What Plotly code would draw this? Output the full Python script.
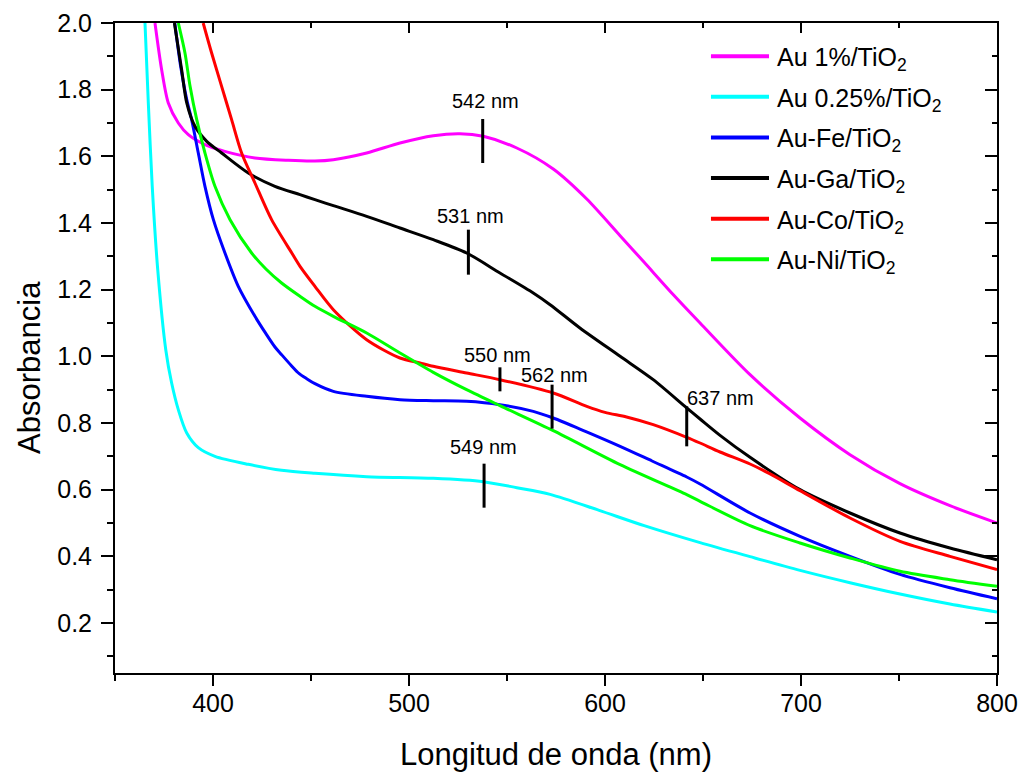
import plotly.graph_objects as go

# ---------------- data ----------------
series_names = ["Au 1%/TiO<sub>2</sub>", "Au 0.25%/TiO<sub>2</sub>", "Au-Fe/TiO<sub>2</sub>",
                "Au-Ga/TiO<sub>2</sub>", "Au-Co/TiO<sub>2</sub>", "Au-Ni/TiO<sub>2</sub>"]
series_colors = ["#FF00FF", "#00FFFF", "#0000FF", "#000000", "#FF0000", "#00FF00"]

au1_wl = [370.4, 373.8, 377.2, 382.3, 387.4, 395.9, 406.0, 421.4, 438.4, 452.0, 461.4, 478.4,
          495.4, 512.4, 526.0, 537.9, 555.0, 573.6, 590.7, 607.7, 620.0, 635.0, 648.5, 674.0,
          699.5, 725.0, 750.5, 776.0, 800.0]
au1_abs = [2.00, 1.86, 1.76, 1.70, 1.665, 1.635, 1.615, 1.595, 1.588, 1.586, 1.590, 1.61,
           1.64, 1.662, 1.668, 1.66, 1.625, 1.562, 1.472, 1.362, 1.282, 1.184, 1.100, 0.945,
           0.815, 0.705, 0.618, 0.552, 0.50]

au025_wl = [365.3, 367.0, 369.0, 371.8, 375.9, 378.9, 382.3, 386.6, 392.5, 401.0, 418.0, 435.0,
            452.0, 478.4, 512.4, 537.9, 555.0, 572.0, 597.0, 620.0, 648.5, 674.0, 699.5, 725.0,
            750.5, 776.0, 800.0]
au025_abs = [2.00, 1.76, 1.51, 1.26, 1.02, 0.92, 0.84, 0.77, 0.726, 0.70, 0.676, 0.658,
             0.649, 0.639, 0.634, 0.624, 0.606, 0.586, 0.538, 0.492, 0.441, 0.399, 0.358, 0.321,
             0.287, 0.257, 0.233]

fe_wl = [380.5, 383.5, 386.6, 389.1, 392.5, 395.9, 400.2, 406.1, 412.9, 421.4, 427.0, 431.6,
         435.0, 440.0, 444.0, 447.8, 452.0, 461.4, 478.4, 495.4, 512.4, 529.4, 546.4, 563.4,
         573.6, 590.0, 607.7, 624.0, 641.7, 648.5, 674.0, 699.5, 725.0, 750.5, 776.0, 800.0]
fe_abs = [2.00, 1.87, 1.77, 1.71, 1.61, 1.51, 1.41, 1.31, 1.21, 1.12, 1.068, 1.028,
          1.005, 0.972, 0.948, 0.933, 0.918, 0.895, 0.88, 0.87, 0.867, 0.865, 0.855, 0.835,
          0.815, 0.775, 0.73, 0.686, 0.638, 0.617, 0.53, 0.46, 0.40, 0.346, 0.306, 0.273]

ga_wl = [380.3, 384.0, 386.6, 390.8, 396.8, 404.4, 418.0, 431.6, 444.4, 452.0, 461.4, 478.4,
         495.4, 512.4, 529.4, 546.4, 563.4, 572.0, 587.2, 607.7, 624.6, 641.7, 648.5, 658.7,
         674.0, 699.5, 725.0, 750.5, 776.0, 800.0]
ga_abs = [2.00, 1.86, 1.76, 1.69, 1.645, 1.61, 1.55, 1.51, 1.485, 1.47, 1.452, 1.42,
          1.385, 1.35, 1.31, 1.25, 1.19, 1.155, 1.085, 1.00, 0.93, 0.845, 0.812, 0.763,
          0.697, 0.60, 0.53, 0.47, 0.425, 0.39]

co_wl = [395.0, 399.3, 404.4, 409.5, 414.6, 421.4, 429.9, 440.2, 444.4, 452.0, 461.4, 478.4,
         495.4, 505.6, 512.4, 529.4, 546.4, 573.6, 590.7, 600.0, 611.0, 624.6, 641.7, 648.5,
         658.7, 674.0, 684.0, 699.5, 725.0, 750.5, 776.0, 800.0]
co_abs = [2.00, 1.91, 1.81, 1.71, 1.61, 1.52, 1.41, 1.31, 1.27, 1.21, 1.14, 1.05,
          0.995, 0.98, 0.97, 0.95, 0.93, 0.89, 0.850, 0.832, 0.818, 0.795, 0.757, 0.740,
          0.713, 0.677, 0.648, 0.597, 0.515, 0.445, 0.40, 0.36]

ni_wl = [382.3, 385.7, 388.3, 391.7, 395.9, 401.0, 408.7, 419.7, 427.0, 435.0, 444.4, 452.0,
         461.4, 478.4, 495.4, 512.4, 529.4, 546.4, 573.6, 607.7, 641.7, 648.5, 674.0, 699.5,
         725.0, 750.5, 776.0, 800.0]
ni_abs = [2.00, 1.91, 1.81, 1.71, 1.61, 1.51, 1.41, 1.31, 1.262, 1.22, 1.18, 1.15,
          1.12, 1.07, 1.01, 0.952, 0.90, 0.852, 0.777, 0.675, 0.585, 0.565, 0.492, 0.44,
          0.395, 0.355, 0.33, 0.31]

series_wl = [au1_wl, au025_wl, fe_wl, ga_wl, co_wl, ni_wl]
series_abs = [au1_abs, au025_abs, fe_abs, ga_abs, co_abs, ni_abs]

# peak markers (vertical bars) and their labels
peak_labels = ["542 nm", "531 nm", "550 nm", "562 nm", "637 nm", "549 nm"]
peak_x = [537.6, 530.3, 546.4, 573.0, 641.7, 538.3]
peak_y_low = [1.580, 1.245, 0.895, 0.783, 0.730, 0.546]
peak_y_high = [1.712, 1.380, 0.967, 0.915, 0.850, 0.678]
label_x = [539.2, 531.5, 545.3, 574.1, 658.7, 537.9]
label_y = [1.765, 1.420, 1.005, 0.945, 0.876, 0.729]

x_range = [350, 800]
y_range = [0.05, 2.0]
x_title = "Longitud de onda (nm)"
y_title = "Absorbancia"

FONT = "Liberation Sans, Arial, sans-serif"

fig = go.Figure()
for name, color, wl, ab in zip(series_names, series_colors, series_wl, series_abs):
    fig.add_trace(go.Scatter(x=wl, y=ab, mode="lines", name=name,
                             line=dict(color=color, width=3, shape="spline", smoothing=0.8),
                             showlegend=False))

# helper trace so the mirrored (inside-tick) axes are drawn
fig.add_trace(go.Scatter(x=[None], y=[None], xaxis="x2", yaxis="y2",
                         showlegend=False, hoverinfo="skip"))

shapes = []
annotations = []
for lab, px, y0, y1, lx, ly in zip(peak_labels, peak_x, peak_y_low, peak_y_high, label_x, label_y):
    shapes.append(dict(type="line", xref="x", yref="y", x0=px, x1=px, y0=y0, y1=y1,
                       line=dict(color="black", width=3)))
    annotations.append(dict(x=lx, y=ly, xref="x", yref="y", text=lab, showarrow=False,
                            xanchor="center", yanchor="middle",
                            font=dict(family=FONT, size=20, color="black")))

# legend drawn in the upper right of the plot area
leg_x0, leg_x1, leg_tx = 0.6757, 0.7415, 0.7480
leg_top, leg_step = 0.949, 0.0625
for i, (name, color) in enumerate(zip(series_names, series_colors)):
    yy = leg_top - i * leg_step
    shapes.append(dict(type="line", xref="paper", yref="paper", x0=leg_x0, x1=leg_x1,
                       y0=yy, y1=yy, line=dict(color=color, width=4)))
    annotations.append(dict(x=leg_tx, y=yy, xref="paper", yref="paper", text=name,
                            showarrow=False, xanchor="left", yanchor="middle", yshift=-3,
                            font=dict(family=FONT, size=25, color="black")))

# y-axis title (placed as in the reference, slightly below the axis centre)
annotations.append(dict(x=-0.097, y=0.47, xref="paper", yref="paper", text=y_title,
                        showarrow=False, textangle=-90, xanchor="center", yanchor="middle",
                        font=dict(family=FONT, size=31, color="black")))

axis_common = dict(showline=True, linecolor="black", linewidth=2, showgrid=False,
                   zeroline=False, tickcolor="black", tickwidth=2, automargin=False)

fig.update_layout(
    width=1021, height=772,
    margin=dict(l=115, r=24, t=23, b=99, pad=0),
    paper_bgcolor="white", plot_bgcolor="white",
    font=dict(family=FONT, color="black"),
    showlegend=False,
    xaxis=dict(range=x_range, tick0=0, dtick=100, ticks="outside", ticklen=11,
               tickfont=dict(size=25), ticklabelstandoff=-4,
               minor=dict(dtick=50, ticks="outside", ticklen=6, tickwidth=2, tickcolor="black"),
               title=dict(text=x_title, font=dict(size=31), standoff=27),
               **axis_common),
    yaxis=dict(range=y_range, tick0=0, dtick=0.2, tickformat=".1f", ticks="outside", ticklen=12,
               tickfont=dict(size=25), ticklabelstandoff=4,
               minor=dict(dtick=0.1, ticks="outside", ticklen=6, tickwidth=2, tickcolor="black"),
               **axis_common),
    xaxis2=dict(range=x_range, overlaying="x", side="top", anchor="y2", tick0=0, dtick=100,
                ticks="inside", ticklen=10, showticklabels=False,
                minor=dict(dtick=50, ticks="inside", ticklen=5, tickwidth=2, tickcolor="black"),
                **axis_common),
    yaxis2=dict(range=y_range, overlaying="y", side="right", anchor="x2", tick0=0, dtick=0.2,
                ticks="inside", ticklen=12, showticklabels=False,
                minor=dict(dtick=0.1, ticks="inside", ticklen=5, tickwidth=2, tickcolor="black"),
                **axis_common),
    shapes=shapes,
    annotations=annotations,
)

fig.write_html("out.html")
